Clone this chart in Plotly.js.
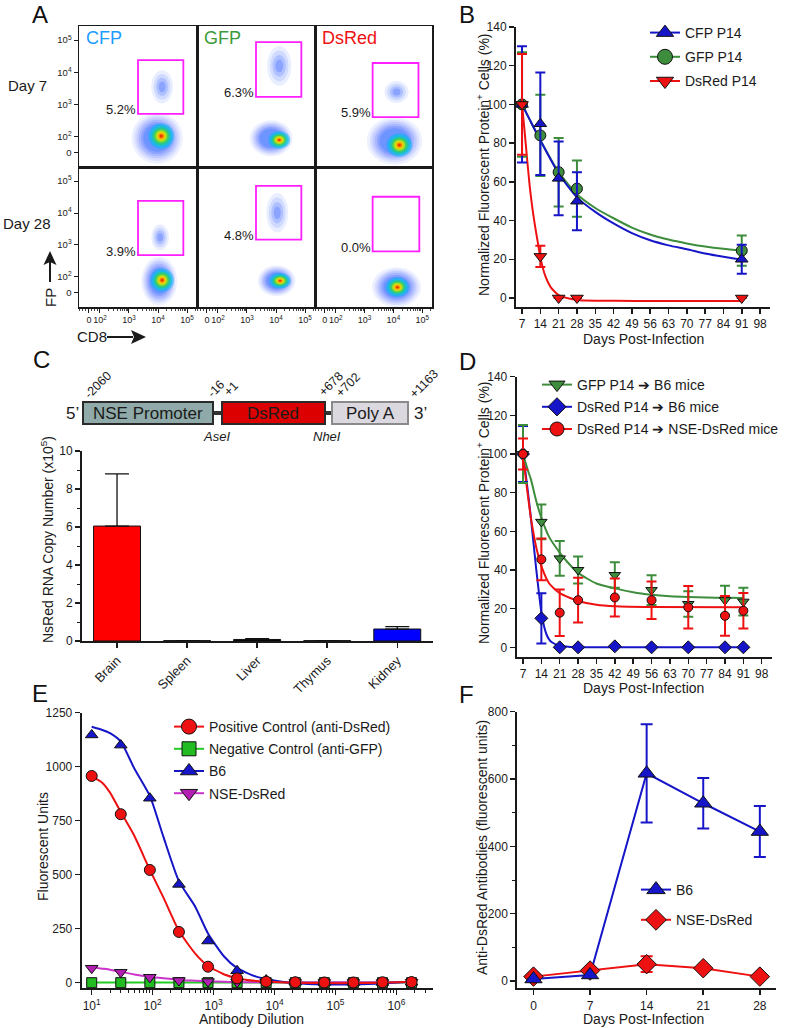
<!DOCTYPE html>
<html><head><meta charset="utf-8">
<script src="https://cdn.plot.ly/plotly-3.0.1.min.js"></script>
<style>html,body{margin:0;padding:0;background:#fff;}#chart{width:795px;height:1028px;}</style>
</head><body><div id="chart"></div>
<script>
// ================= DATA =================
// ---- Panel A (flow cytometry, display units: decade positions of the biexponential axis)
const flowColumns = ['CFP', 'GFP', 'DsRed'];
const flowRows = ['Day 7', 'Day 28'];
const flowTickLabels = ['0', '10<sup>2</sup>', '10<sup>3</sup>', '10<sup>4</sup>', '10<sup>5</sup>'];
const flowTickPosX = [1.62, 2, 3, 4, 5];
const flowTickPosY = [1.5, 2, 3, 4, 5];
const gatePercent = ['5.2%', '6.3%', '5.9%', '3.9%', '4.8%', '0.0%'];
const gateX0 = [3.31, 3.31, 3.28, 3.31, 3.31, 3.28];
const gateX1 = [4.87, 4.87, 4.87, 4.87, 4.87, 4.90];
const gateY0 = [2.71, 3.24, 2.61, 2.68, 3.17, 2.80];
const gateY1 = [4.38, 4.94, 4.29, 4.38, 4.85, 4.51];
// main CD8+ population (halo + dense core) per panel 1..6
const haloX = [3.97, 3.83, 4.04, 4.04, 4.02, 4.11];
const haloY = [1.96, 1.95, 1.87, 1.87, 1.88, 1.68];
const haloRX = [0.79, 0.66, 0.86, 0.55, 0.58, 0.76];
const haloRY = [0.71, 0.50, 0.66, 0.68, 0.43, 0.56];
const coreX = [4.11, 4.11, 4.21, 4.14, 4.14, 4.14];
const coreY = [2.02, 1.90, 1.74, 1.90, 1.88, 1.68];
const coreRX = [0.45, 0.38, 0.45, 0.41, 0.38, 0.41];
const coreRY = [0.40, 0.28, 0.37, 0.37, 0.25, 0.31];
// gated FP+ population per panel
const fpPanel = [1, 2, 3, 4, 5];
const fpX = [4.14, 4.11, 4.11, 4.07, 4.04];
const fpY = [3.55, 4.20, 3.39, 3.24, 4.01];
const fpRX = [0.34, 0.38, 0.38, 0.28, 0.34];
const fpRY = [0.47, 0.56, 0.31, 0.37, 0.56];

// ---- Panel B
const bDays = [7, 14, 21, 28, 91];
const bCFP = [100, 90, 61.8, 50, 20];
const bCFPerr = [30, 26.5, 19, 15, 7.5];
const bGFP = [100, 84, 65, 56.5, 24.5];
const bGFPerr = [27, 21, 17.7, 14.5, 7.8];
const bDsRed = [100, 21.5, 0, 0, 0];
const bDsRedErr = [26, 5.5, null, null, null];
const bFitCFPx = [7, 10, 14, 21, 28, 35, 42, 49, 56, 63, 70, 77, 84, 91];
const bFitCFPy = [100, 92, 81.5, 64.3, 52, 44.5, 38.5, 33.5, 29.8, 27.2, 25.2, 23, 21.3, 19.8];
const bFitGFPx = [7, 10, 14, 21, 28, 35, 42, 49, 56, 63, 70, 77, 84, 91];
const bFitGFPy = [100, 92, 81.5, 65.1, 53.6, 46.5, 41.2, 36.4, 32.8, 30.2, 28.2, 26.6, 25.4, 24.5];
const bFitDsRedx = [7, 8, 9, 10, 11, 12, 13, 14, 16, 18, 21, 25, 28, 35, 50, 91];
const bFitDsRedy = [100, 86, 71, 57, 46, 37, 29, 21, 11, 5.5, 1.5, -0.3, -1, -1.4, -1.5, -1.5];

// ---- Panel C
const cTissues = ['Brain', 'Spleen', 'Liver', 'Thymus', 'Kidney'];
const cCopies = [6.05, 0.02, 0.08, 0.02, 0.63];
const cErr = [2.75, 0, 0.05, 0, 0.13];

// ---- Panel D
const dDays = [7, 14, 21, 28, 42, 56, 70, 84, 91];
const dGFPB6 = [100, 64.9, 46, 40, 37.4, 29.6, 22.4, 24.4, 23.6];
const dGFPB6err = [15, 9, 9, 7, 6.6, 7.7, 6.6, 7.5, 7.2];
const dDsRedB6 = [100, 15, 0, 0, 0.5, 0, 0, 0, 0];
const dDsRedB6err = [14.5, 13, null, null, null, null, null, null, null];
const dDsRedNSE = [100, 45.5, 17.9, 24.4, 25.8, 24.4, 20.7, 16.3, 18.9];
const dDsRedNSEerr = [8, 10.8, 12, 11.6, 9.8, 9.7, 11, 10.3, 9.2];
const dFitGFPx = [7, 9, 10, 12, 14, 17, 21, 24, 28, 35, 42, 49, 56, 63, 70, 77, 84, 91];
const dFitGFPy = [100, 91, 87, 76, 67, 57, 49, 44, 38.5, 33, 30.5, 28.5, 27.2, 26.4, 26, 25.8, 25.6, 25.5];
const dFitNSEx = [7, 8, 9, 10, 11, 12, 14, 17, 21, 25, 28, 35, 42, 56, 91];
const dFitNSEy = [100, 88, 77, 67, 59, 52, 42, 33, 28, 25.5, 24, 22, 21.2, 20.8, 20.7];
const dFitB6x = [7, 8, 9, 10, 11, 12, 13, 14, 15, 16, 17, 18, 21, 25, 28, 91];
const dFitB6y = [100, 90, 79, 67, 54, 41, 29, 18, 11, 6.5, 4, 2.6, 0.8, 0.2, 0, 0];

// ---- Panel E
const eDilution = [10, 30, 90, 270, 810, 2430, 7290, 21870, 65610, 196830, 590490, 1771470];
const ePositive = [957, 780, 522, 235, 74, 20, 5, 2, 1, 1, 2, 3];
const eNegative = [0, 0, 0, 0, 0, 0, 0, 0, 0, 0, 0, 0];
const eB6 = [1147, 1100, 854, 455, 193, 55, 12, 2, 1, 1, 1, 2];
const eNSE = [67, 48, 25, 10, 5, 3, 2, 1, 1, 1, 1, 2];
const eFitX = [10, 15, 20, 30, 50, 90, 150, 270, 500, 810, 1500, 2430, 5000, 7290, 15000, 21870, 65610, 196830, 590490, 1771470];
const eFitB6 = [1185, 1170, 1155, 1116, 992, 865, 676, 470, 352, 228, 120, 67, 28, 17, 2, -3, -8, -8, -4, 5];
const eFitPositive = [955, 925, 880, 790, 680, 522, 395, 240, 135, 78, 38, 21, 8, 5, 1, 0, -2, -2, 0, 4];
const eFitNSE = [72, 65, 60, 50, 38, 27, 20, 13, 9, 6, 4, 3, 2, 2, 2, 2, 2, 2, 2, 2];
const eFitNegative = [1, 1, 1, 1, 1, 1, 1, 1, 1, 1, 1, 1, 1, 1, 1, 1, 1, 1, 1, 1];

// ---- Panel F
const fDays = [0, 7, 14, 21, 28];
const fB6 = [6, 18, 617, 528, 444];
const fB6err = [null, null, 146, 75, 76];
const fNSE = [13, 31, 50, 38, 13];
const fNSEerr = [null, null, 23.5, null, null];

// ================= STYLE / LAYOUT =================
const W = 795, H = 1028;
const FONT = 'Liberation Sans, Arial, Helvetica, sans-serif';
const INK = '#1a1a1a';
const BLUE = '#1616c8', GREEN = '#3d8d3d', RED = '#ee1111';
const px = x => x / W;
const py = y => 1 - y / H;

const traces = [];
const shapes = [];
const annotations = [];
const layout = {
  width: W, height: H, margin: {l: 0, r: 0, t: 0, b: 0},
  paper_bgcolor: '#ffffff', plot_bgcolor: 'rgba(0,0,0,0)',
  font: {family: FONT, color: INK, size: 12},
  showlegend: true, hovermode: false
};

function ax(extra) {
  return Object.assign({
    showline: true, linecolor: INK, linewidth: 2, ticks: 'outside', ticklen: 5,
    tickwidth: 1.5, tickcolor: INK, showgrid: false, zeroline: false,
    tickfont: {size: 12, color: INK, family: FONT}, fixedrange: true
  }, extra);
}
function text(t, x, y, o) {
  annotations.push(Object.assign({text: t, x: px(x), y: py(y), xref: 'paper', yref: 'paper',
    showarrow: false, xanchor: 'center', yanchor: 'middle', font: {size: 14, color: INK, family: FONT}}, o || {}));
}
function nm(k, a) { return k === 1 ? a : a + k; }

// ---------- Panel A ----------
const minorFlow = [1.3, 1.4, 1.5, 1.6, 1.7, 1.8, 1.9];
for (let d = 2; d <= 4; d++) for (let m = 2; m <= 9; m++) minorFlow.push(d + Math.log10(m));
minorFlow.push(5 + Math.log10(2));

const haloLayers = [[1.12, 'rgba(80,110,255,0.10)'], [1.0, 'rgba(70,100,255,0.12)'], [0.9, 'rgba(50,90,255,0.14)'],
  [0.8, 'rgba(40,80,255,0.16)'], [0.7, 'rgba(30,80,255,0.2)'], [0.6, 'rgba(20,110,255,0.25)']];
const coreLayers = [[1.0, 'rgba(0,180,240,0.45)'], [0.86, 'rgba(0,200,225,0.55)'], [0.72, 'rgba(40,205,120,0.6)'],
  [0.58, 'rgba(90,210,60,0.7)'], [0.45, 'rgba(200,230,20,0.75)'], [0.33, 'rgba(250,200,0,0.8)'], [0.2, 'rgba(255,100,0,0.8)'], [0.1, 'rgba(230,30,0,0.8)']];
const fpLayers = [[1.1, 'rgba(80,120,255,0.12)'], [0.85, 'rgba(60,100,255,0.15)'], [0.6, 'rgba(40,90,255,0.2)'], [0.35, 'rgba(30,80,255,0.25)']];

function ellipse(k, cx, cy, rx, ry, s, col) {
  shapes.push({type: 'circle', xref: nm(k, 'x'), yref: nm(k, 'y'), x0: cx - rx * s, x1: cx + rx * s,
    y0: cy - ry * s, y1: cy + ry * s, fillcolor: col, line: {width: 0}, layer: 'below'});
}

for (let r = 0; r < 2; r++) {
  for (let c = 0; c < 3; c++) {
    const k = r * 3 + c + 1, i = k - 1;
    const x0 = 79 + 118 * c, x1 = c === 2 ? 432 : x0 + 118;
    const yT = r === 0 ? 26 : 167, yB = r === 0 ? 167 : 307;
    layout[nm(k, 'xaxis')] = ax({domain: [px(x0), px(x1)], range: [1.28, 5.34], anchor: nm(k, 'y'),
      mirror: true, linewidth: 1.5, ticks: r === 1 ? 'outside' : '', showticklabels: r === 1,
      tickmode: 'array', tickvals: flowTickPosX, ticktext: flowTickLabels, ticklen: 4, tickwidth: 1, tickangle: 0,
      tickfont: {size: 9, color: INK, family: FONT},
      minor: r === 1 ? {ticks: 'outside', ticklen: 2.5, tickwidth: 0.8, tickcolor: INK, tickmode: 'array', tickvals: minorFlow} : {ticks: ''}});
    layout[nm(k, 'yaxis')] = ax({domain: [py(yB), py(yT)], range: [1.06, 5.44], anchor: nm(k, 'x'),
      mirror: true, linewidth: 1.5, ticks: c === 0 ? 'outside' : '', showticklabels: c === 0,
      tickmode: 'array', tickvals: flowTickPosY, ticktext: flowTickLabels, ticklen: 4, tickwidth: 1, tickangle: 0,
      tickfont: {size: 9.5, color: INK, family: FONT}});
    traces.push({type: 'scatter', x: [null], y: [null], xaxis: nm(k, 'x'), yaxis: nm(k, 'y'), showlegend: false, hoverinfo: 'skip'});
    haloLayers.forEach(([s, col]) => ellipse(k, haloX[i], haloY[i], haloRX[i], haloRY[i], s, col));
    coreLayers.forEach(([s, col]) => ellipse(k, coreX[i], coreY[i], coreRX[i], coreRY[i], s, col));
    shapes.push({type: 'rect', xref: nm(k, 'x'), yref: nm(k, 'y'), x0: gateX0[i], x1: gateX1[i], y0: gateY0[i], y1: gateY1[i],
      line: {color: '#ff1fff', width: 1.8}, fillcolor: 'rgba(0,0,0,0)', layer: 'above'});
    annotations.push({text: gatePercent[i], x: gateX0[i], y: gateY0[i] + 0.13, xref: nm(k, 'x'), yref: nm(k, 'y'),
      showarrow: false, xanchor: 'right', yanchor: 'middle', font: {size: 13, color: INK, family: FONT}});
  }
}
fpPanel.forEach((k, j) => fpLayers.forEach(([s, col]) => ellipse(k, fpX[j], fpY[j], fpRX[j], fpRY[j], s, col)));

const colColors = ['#1e9bff', '#3a9a3a', '#ee1111'];
flowColumns.forEach((t, c) => text(t, 84 + 118 * c, 38, {xanchor: 'left', font: {size: 18, color: colColors[c], family: FONT}}));
text(flowRows[0], 27, 85, {font: {size: 15, color: INK, family: FONT}});
text(flowRows[1], 27, 223, {font: {size: 15, color: INK, family: FONT}});
// FP arrow
shapes.push({type: 'line', xref: 'paper', yref: 'paper', x0: px(50), x1: px(50), y0: py(282), y1: py(262), line: {color: INK, width: 2}});
shapes.push({type: 'path', xref: 'paper', yref: 'paper', path: `M ${px(50)},${py(251)} L ${px(43.5)},${py(265)} L ${px(50)},${py(262)} L ${px(56.5)},${py(265)} Z`, fillcolor: INK, line: {width: 0}});
text('FP', 50, 298, {textangle: -90, font: {size: 15, color: INK, family: FONT}});
// CD8 arrow
shapes.push({type: 'line', xref: 'paper', yref: 'paper', x0: px(107), x1: px(133), y0: py(337), y1: py(337), line: {color: INK, width: 2}});
shapes.push({type: 'path', xref: 'paper', yref: 'paper', path: `M ${px(146)},${py(337)} L ${px(131)},${py(330)} L ${px(134)},${py(337)} L ${px(131)},${py(344)} Z`, fillcolor: INK, line: {width: 0}});
text('CD8', 92, 337, {font: {size: 15, color: INK, family: FONT}});

// ---------- Panel B (axes 7) ----------
layout.xaxis7 = ax({domain: [px(516), px(770)], range: [4.7, 101.8], anchor: 'y7', tickmode: 'array', tickvals: [7, 14, 21, 28, 35, 42, 49, 56, 63, 70, 77, 84, 91, 98], tickangle: 0});
layout.yaxis7 = ax({domain: [py(307), py(27)], range: [-4.65, 140], anchor: 'x7', tickmode: 'array', tickvals: [0, 20, 40, 60, 80, 100, 120, 140]});
function pts(x, y, err, col, sym, size, xa, ya, ew) {
  return {type: 'scatter', mode: 'markers', x: x, y: y, xaxis: xa, yaxis: ya, showlegend: false, cliponaxis: false,
    marker: {color: col, symbol: sym, size: size, line: {color: '#111', width: 1}},
    error_y: err ? {type: 'data', array: err, visible: true, color: col, thickness: 2, width: ew || 5} : {visible: false}};
}
function fit(x, y, col, xa, ya, sm) {
  return {type: 'scatter', mode: 'lines', x: x, y: y, xaxis: xa, yaxis: ya, showlegend: false,
    line: {color: col, width: 2, shape: 'spline', smoothing: sm === undefined ? 0.6 : sm}};
}
function leg(name, col, sym, size, lg, grp, lineCol) {
  return {type: 'scatter', mode: 'lines+markers', x: [null], y: [null], xaxis: 'x7', yaxis: 'y7', name: name,
    legend: lg, legendgroup: grp, line: {color: lineCol || col, width: 2},
    marker: {color: col, symbol: sym, size: size, line: {color: '#111', width: 1}}};
}
traces.push(fit(bFitGFPx, bFitGFPy, GREEN, 'x7', 'y7'));
traces.push(fit(bFitCFPx, bFitCFPy, BLUE, 'x7', 'y7'));
traces.push(fit(bFitDsRedx, bFitDsRedy, RED, 'x7', 'y7', 0.5));
traces.push(pts(bDays, bGFP, bGFPerr, GREEN, 'circle', 11, 'x7', 'y7'));
traces.push(pts(bDays, bCFP, bCFPerr, BLUE, 'triangle-up', 11, 'x7', 'y7'));
traces.push(pts(bDays, bDsRed, bDsRedErr, RED, 'triangle-down', 11, 'x7', 'y7'));
traces.push(leg('CFP P14', BLUE, 'triangle-up', 15, 'legend', 'b1'));
traces.push(leg('GFP P14', GREEN, 'circle', 15, 'legend', 'b2'));
traces.push(leg('DsRed P14', RED, 'triangle-down', 15, 'legend', 'b3'));
text('Normalized Fluorescent Protein<sup>+</sup> Cells (%)', 483, 165, {textangle: -90});
text('Days Post-Infection', 643, 339);

// ---------- Panel C (axes 8) ----------
layout.xaxis8 = ax({domain: [px(82), px(433)], range: [-0.5, 4.51], anchor: 'y8', type: 'category', tickangle: -45, tickfont: {size: 13, color: INK, family: FONT}});
layout.yaxis8 = ax({domain: [py(641), py(451)], range: [0, 10], anchor: 'x8', tickmode: 'array', tickvals: [0, 2, 4, 6, 8, 10],
  minor: {ticks: 'outside', ticklen: 3, tickwidth: 1, tickcolor: INK, tickmode: 'array', tickvals: [1, 3, 5, 7, 9]}});
traces.push({type: 'bar', x: cTissues, y: cCopies, xaxis: 'x8', yaxis: 'y8', width: 0.67, showlegend: false,
  marker: {color: ['#ff0000', '#c4c4c4', '#000000', '#d6d6d6', '#0000ff'], line: {color: '#111', width: 1}},
  error_y: {type: 'data', symmetric: false, array: cErr, arrayminus: [0, 0, 0, 0, 0], color: '#111', thickness: 1.3, width: 12}});
text('NsRed RNA Copy Number (x10<sup>5</sup>)', 47, 540, {textangle: -90});
// construct schematic
function box(x0, x1, fill, lc) {
  shapes.push({type: 'rect', xref: 'paper', yref: 'paper', x0: px(x0), x1: px(x1), y0: py(424), y1: py(402), fillcolor: fill, line: {color: lc, width: 2}});
}
shapes.push({type: 'line', xref: 'paper', yref: 'paper', x0: px(212), x1: px(223), y0: py(413), y1: py(413), line: {color: '#333', width: 4}});
shapes.push({type: 'line', xref: 'paper', yref: 'paper', x0: px(324), x1: px(333), y0: py(413), y1: py(413), line: {color: '#333', width: 4}});
box(83, 213, '#8faaa9', '#2a2a2a');
box(222, 325, '#dd0000', '#2a2a2a');
box(332, 408, '#dcd8e0', '#8a8a8a');
const schem = {size: 17, color: INK, family: FONT};
text('5’', 81, 413, {xanchor: 'right', font: schem});
text('NSE Promoter', 148, 413, {font: schem});
text('DsRed', 273, 413, {font: schem});
text('Poly A', 370, 413, {font: schem});
text('3’', 412, 413, {xanchor: 'left', font: schem});
const num = {size: 12.5, color: INK, family: FONT};
text('-2060', 98, 385, {textangle: -45, font: num});
text('-16', 216, 389, {textangle: -45, font: num});
text('+1', 231, 389, {textangle: -45, font: num});
text('+678', 331, 384, {textangle: -45, font: num});
text('+702', 348, 385, {textangle: -45, font: num});
text('+1163', 424, 384, {textangle: -45, font: num});
text('<i>AseI</i>', 216, 436, {font: {size: 13, color: INK, family: FONT}});
text('<i>NheI</i>', 327, 436, {font: {size: 13, color: INK, family: FONT}});

// ---------- Panel D (axes 9) ----------
layout.xaxis9 = ax({domain: [px(516.7), px(771.7)], range: [4.6, 101.8], anchor: 'y9', tickmode: 'array', tickvals: [7, 14, 21, 28, 35, 42, 49, 56, 63, 70, 77, 84, 91, 98], tickangle: 0});
layout.yaxis9 = ax({domain: [py(656.7), py(376.7)], range: [-4.86, 140], anchor: 'x9', tickmode: 'array', tickvals: [0, 20, 40, 60, 80, 100, 120, 140]});
traces.push(fit(dFitB6x, dFitB6y, BLUE, 'x9', 'y9', 0.5));
traces.push(fit(dFitNSEx, dFitNSEy, RED, 'x9', 'y9'));
traces.push(fit(dFitGFPx, dFitGFPy, GREEN, 'x9', 'y9'));
traces.push(pts(dDays, dDsRedB6, dDsRedB6err, BLUE, 'diamond', 10, 'x9', 'y9'));
traces.push(pts(dDays, dGFPB6, dGFPB6err, GREEN, 'triangle-down', 10, 'x9', 'y9'));
traces.push(pts(dDays, dDsRedNSE, dDsRedNSEerr, RED, 'circle', 9, 'x9', 'y9'));
traces.push(leg('GFP P14 ➔ B6 mice', GREEN, 'triangle-down', 14, 'legend2', 'd1'));
traces.push(leg('DsRed P14 ➔ B6 mice', BLUE, 'diamond', 14, 'legend2', 'd2'));
traces.push(leg('DsRed P14 ➔ NSE-DsRed mice', RED, 'circle', 14, 'legend2', 'd3'));
text('Normalized Fluorescent Protein<sup>+</sup> Cells (%)', 483, 513, {textangle: -90});
text('Days Post-Infection', 643, 688);

// ---------- Panel E (axes 10) ----------
const minorLog = [];
for (let d = 1; d <= 6; d++) for (let m = 2; m <= 9; m++) minorLog.push(m * Math.pow(10, d));
layout.xaxis10 = ax({domain: [px(81.7), px(433)], type: 'log', range: [0.836, 6.6], anchor: 'y10', tickmode: 'array',
  tickvals: [10, 100, 1000, 10000, 100000, 1000000], tickangle: 0,
  ticktext: ['10<sup>1</sup>', '10<sup>2</sup>', '10<sup>3</sup>', '10<sup>4</sup>', '10<sup>5</sup>', '10<sup>6</sup>'],
  minor: {ticks: 'outside', ticklen: 3, tickwidth: 1, tickcolor: INK, tickmode: 'array', tickvals: minorLog}});
layout.yaxis10 = ax({domain: [py(988.3), py(712.7)], range: [-26, 1250], anchor: 'x10', tickmode: 'array', tickvals: [0, 250, 500, 750, 1000, 1250]});
traces.push(fit(eFitX, eFitNegative, '#22cc22', 'x10', 'y10'));
traces.push(fit(eFitX, eFitNSE, '#cc33cc', 'x10', 'y10'));
traces.push(fit(eFitX, eFitB6, BLUE, 'x10', 'y10'));
traces.push(fit(eFitX, eFitPositive, RED, 'x10', 'y10'));
traces.push(pts(eDilution, eNegative, null, '#22bb22', 'square', 10, 'x10', 'y10'));
traces.push(pts(eDilution, eNSE, null, '#b21fb2', 'triangle-down', 11, 'x10', 'y10'));
traces.push(pts(eDilution, eB6, null, BLUE, 'triangle-up', 11, 'x10', 'y10'));
traces.push(pts(eDilution, ePositive, null, RED, 'circle', 11, 'x10', 'y10'));
traces.push(leg('Positive Control (anti-DsRed)', RED, 'circle', 15, 'legend3', 'e1'));
traces.push(leg('Negative Control (anti-GFP)', '#22bb22', 'square', 14, 'legend3', 'e2', '#22cc22'));
traces.push(leg('B6', BLUE, 'triangle-up', 15, 'legend3', 'e3'));
traces.push(leg('NSE-DsRed', '#b21fb2', 'triangle-down', 15, 'legend3', 'e4', '#cc33cc'));
text('Fluorescent Units', 43, 847, {textangle: -90});
text('Antibody Dilution', 251, 1019);

// ---------- Panel F (axes 11) ----------
layout.xaxis11 = ax({domain: [px(517.3), px(776)], range: [-2, 30], anchor: 'y11', tickmode: 'array', tickvals: [0, 7, 14, 21, 28], tickangle: 0});
layout.yaxis11 = ax({domain: [py(988.3), py(711.7)], range: [-21.7, 800], anchor: 'x11', tickmode: 'array', tickvals: [0, 200, 400, 600, 800],
  minor: {ticks: 'outside', ticklen: 3, tickwidth: 1, tickcolor: INK, tickmode: 'array', tickvals: [100, 300, 500, 700]}});
traces.push({type: 'scatter', mode: 'lines', x: fDays, y: fNSE, xaxis: 'x11', yaxis: 'y11', showlegend: false, line: {color: RED, width: 2}});
traces.push({type: 'scatter', mode: 'lines', x: fDays, y: fB6, xaxis: 'x11', yaxis: 'y11', showlegend: false, line: {color: BLUE, width: 2}});
traces.push(pts(fDays, fNSE, fNSEerr, RED, 'diamond', 15, 'x11', 'y11', 6));
traces.push(pts(fDays, fB6, fB6err, BLUE, 'triangle-up', 15, 'x11', 'y11', 6));
traces.push(leg('B6', BLUE, 'triangle-up', 16, 'legend4', 'f1'));
traces.push(leg('NSE-DsRed', RED, 'diamond', 16, 'legend4', 'f2'));
text('Anti-DsRed Antibodies (fluorescent units)', 482, 848, {textangle: -90});
text('Days Post-Infection', 643, 1019);

// ---------- legends ----------
function legendAt(x, y, gap) {
  return {x: px(x), y: py(y), xanchor: 'left', yanchor: 'top', bgcolor: 'rgba(0,0,0,0)', borderwidth: 0,
    font: {size: 14, color: INK, family: FONT}, traceorder: 'grouped', tracegroupgap: gap, itemsizing: 'trace', itemclick: false, itemdoubleclick: false};
}
layout.legend = legendAt(645, 17, 3);
layout.legend2 = legendAt(537, 369, 1);
layout.legend3 = legendAt(169, 711, 1);
layout.legend4 = legendAt(636, 874, 9);

// ---------- panel letters ----------
const letter = {size: 24, color: '#111', family: FONT};
text('A', 40, 15, {font: letter});
text('B', 467, 15, {font: letter});
text('C', 41, 359, {font: letter});
text('D', 467, 361, {font: letter});
text('E', 40, 693, {font: letter});
text('F', 466, 694, {font: letter});

layout.shapes = shapes;
layout.annotations = annotations;
Plotly.newPlot('chart', traces, layout, {staticPlot: true, displayModeBar: false});
</script></body></html>
